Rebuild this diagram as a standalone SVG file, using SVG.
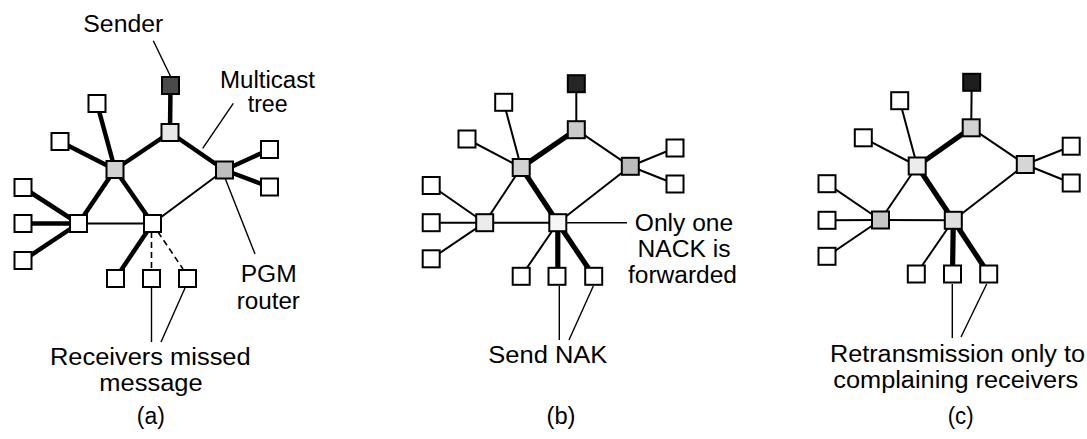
<svg xmlns="http://www.w3.org/2000/svg" width="1087" height="439" viewBox="0 0 1087 439">
<style>
.e{stroke:#000;stroke-linecap:butt;fill:none}
.t1{stroke-width:2}
.t2{stroke-width:4.5}
.t3{stroke-width:5.2}
.d{stroke-width:1.6;stroke-dasharray:6 4}
.ld{stroke:#000;stroke-width:1.4;fill:none}
.n{stroke:#000;stroke-width:2}
.w{fill:#fff}
text{font-family:"Liberation Sans",Arial,Helvetica,sans-serif;font-size:23px;fill:#000;text-anchor:middle}
</style>
<rect width="1087" height="439" fill="#fff"/>

<!-- Connectors -->
<g id="connectors">
  <!-- panel a -->
  <line class="e t2" x1="170.5" y1="85.5" x2="170" y2="132.5"/>
  <line class="e t2" x1="170" y1="132.5" x2="115" y2="169.5"/>
  <line class="e t2" x1="170" y1="132.5" x2="224.5" y2="170"/>
  <line class="e t2" x1="115" y1="169.5" x2="97" y2="103.5"/>
  <line class="e t2" x1="115" y1="169.5" x2="60" y2="141.5"/>
  <line class="e t2" x1="115" y1="169.5" x2="78.5" y2="223.5"/>
  <line class="e t2" x1="115" y1="169.5" x2="152.5" y2="223.5"/>
  <line class="e t2" x1="224.5" y1="170" x2="269.5" y2="149.5"/>
  <line class="e t2" x1="224.5" y1="170" x2="269.5" y2="187"/>
  <line class="e t1" x1="224.5" y1="170" x2="152.5" y2="223.5"/>
  <line class="e t2" x1="78.5" y1="223.5" x2="23" y2="187.5"/>
  <line class="e t2" x1="78.5" y1="223.5" x2="23" y2="223.5"/>
  <line class="e t2" x1="78.5" y1="223.5" x2="23" y2="260.5"/>
  <line class="e t1" x1="78.5" y1="223.5" x2="152.5" y2="223.5"/>
  <line class="e t2" x1="152.5" y1="223.5" x2="115.5" y2="278.5"/>
  <line class="e d" x1="151.5" y1="232" x2="151.5" y2="269"/>
  <line class="e d" x1="158" y1="232" x2="183" y2="269"/>
  <!-- panel a leaders -->
  <line class="ld" x1="153.3" y1="40.7" x2="170.7" y2="76.7"/>
  <line class="ld" x1="233.3" y1="103.3" x2="202.7" y2="148.3"/>
  <line class="ld" x1="225" y1="178" x2="255" y2="254"/>
  <line class="ld" x1="151.5" y1="288" x2="151.5" y2="342"/>
  <line class="ld" x1="185" y1="288" x2="161" y2="342"/>

  <!-- panel b -->
  <line class="e t1" x1="576.3" y1="83.7" x2="576.3" y2="129.7"/>
  <line class="e t3" x1="576.3" y1="129.7" x2="521.2" y2="167.5"/>
  <line class="e t1" x1="576.3" y1="129.7" x2="630.3" y2="166.3"/>
  <line class="e t1" x1="521.2" y1="167.5" x2="503.7" y2="102.3"/>
  <line class="e t1" x1="521.2" y1="167.5" x2="467" y2="139"/>
  <line class="e t1" x1="521.2" y1="167.5" x2="484.7" y2="222.7"/>
  <line class="e t3" x1="521.2" y1="167.5" x2="557.8" y2="222.7"/>
  <line class="e t1" x1="630.3" y1="166.3" x2="675" y2="148"/>
  <line class="e t1" x1="630.3" y1="166.3" x2="675" y2="184"/>
  <line class="e t1" x1="630.3" y1="166.3" x2="557.8" y2="222.7"/>
  <line class="e t1" x1="484.7" y1="222.7" x2="431.2" y2="185.5"/>
  <line class="e t1" x1="484.7" y1="222.7" x2="431.2" y2="222.7"/>
  <line class="e t1" x1="484.7" y1="222.7" x2="431.2" y2="258.8"/>
  <line class="e t1" x1="484.7" y1="222.7" x2="557.8" y2="222.7"/>
  <line class="e t1" x1="557.8" y1="222.7" x2="521.2" y2="276.3"/>
  <line class="e t3" x1="557.8" y1="222.7" x2="557.8" y2="276.3"/>
  <line class="e t3" x1="557.8" y1="222.7" x2="593.7" y2="276.3"/>
  <!-- panel b leaders -->
  <line class="ld" x1="567" y1="222.7" x2="627" y2="222.7"/>
  <line class="ld" x1="559.3" y1="286" x2="559.3" y2="340"/>
  <line class="ld" x1="593.3" y1="286" x2="569" y2="340"/>

  <!-- panel c -->
  <line class="e t1" x1="971.7" y1="82.3" x2="971.2" y2="127.8"/>
  <line class="e t3" x1="971.2" y1="127.8" x2="917.2" y2="166"/>
  <line class="e t1" x1="971.2" y1="127.8" x2="1025.3" y2="164.5"/>
  <line class="e t1" x1="917.2" y1="166" x2="899.7" y2="100.7"/>
  <line class="e t1" x1="917.2" y1="166" x2="863.3" y2="137.8"/>
  <line class="e t1" x1="917.2" y1="166" x2="880.5" y2="220"/>
  <line class="e t3" x1="917.2" y1="166" x2="953.3" y2="220.3"/>
  <line class="e t1" x1="1025.3" y1="164.5" x2="1071.2" y2="146.2"/>
  <line class="e t1" x1="1025.3" y1="164.5" x2="1071.2" y2="183"/>
  <line class="e t1" x1="1025.3" y1="164.5" x2="953.3" y2="220.3"/>
  <line class="e t1" x1="880.5" y1="220" x2="827" y2="183.7"/>
  <line class="e t1" x1="880.5" y1="220" x2="827" y2="220.3"/>
  <line class="e t1" x1="880.5" y1="220" x2="827" y2="256.3"/>
  <line class="e t1" x1="880.5" y1="220" x2="953.3" y2="220.3"/>
  <line class="e t1" x1="953.3" y1="220.3" x2="916.3" y2="274"/>
  <line class="e t3" x1="953.3" y1="220.3" x2="952.5" y2="274"/>
  <line class="e t3" x1="953.3" y1="220.3" x2="988.7" y2="274"/>
  <!-- panel c leaders -->
  <line class="ld" x1="952.3" y1="284" x2="952.3" y2="338"/>
  <line class="ld" x1="986.7" y1="284" x2="961" y2="337"/>
</g>

<!-- Panel a nodes -->
<g id="a-sender"><rect class="n" x="162" y="77" width="17" height="17" fill="#4a4a4a"/></g>
<g id="a-r1"><rect class="n" x="161.5" y="124" width="17" height="17" fill="#e8e8e8"/></g>
<g id="a-r2"><rect class="n" x="106.5" y="161" width="17" height="17" fill="#d2d2d2"/></g>
<g id="a-r3"><rect class="n" x="216" y="161.5" width="17" height="17" fill="#bdbdbd"/></g>
<g id="a-r4"><rect class="n w" x="70" y="215" width="17" height="17"/></g>
<g id="a-r5"><rect class="n w" x="144" y="215" width="17" height="17"/></g>
<g id="a-l1"><rect class="n w" x="88.5" y="95" width="17" height="17"/></g>
<g id="a-l2"><rect class="n w" x="51.5" y="133" width="17" height="17"/></g>
<g id="a-l3"><rect class="n w" x="261" y="141" width="17" height="17"/></g>
<g id="a-l4"><rect class="n w" x="261" y="178.5" width="17" height="17"/></g>
<g id="a-l5"><rect class="n w" x="14.5" y="179" width="17" height="17"/></g>
<g id="a-l6"><rect class="n w" x="14.5" y="215" width="17" height="17"/></g>
<g id="a-l7"><rect class="n w" x="14.5" y="252" width="17" height="17"/></g>
<g id="a-l8"><rect class="n w" x="107" y="270" width="17" height="17"/></g>
<g id="a-l9"><rect class="n w" x="143" y="270" width="17" height="17"/></g>
<g id="a-l10"><rect class="n w" x="179" y="270" width="17" height="17"/></g>

<!-- Panel b nodes -->
<g id="b-sender"><rect class="n" x="567.8" y="75.2" width="17" height="17" fill="#262626"/></g>
<g id="b-r1"><rect class="n" x="567.8" y="121.2" width="17" height="17" fill="#cacaca"/></g>
<g id="b-r2"><rect class="n" x="512.7" y="159" width="17" height="17" fill="#d2d2d2"/></g>
<g id="b-r3"><rect class="n" x="621.8" y="157.8" width="17" height="17" fill="#bcbcbc"/></g>
<g id="b-r4"><rect class="n" x="476.2" y="214.2" width="17" height="17" fill="#ececec"/></g>
<g id="b-r5"><rect class="n" x="549.3" y="214.2" width="17" height="17" fill="#f6f6f6"/></g>
<g id="b-l1"><rect class="n w" x="495.2" y="93.8" width="17" height="17"/></g>
<g id="b-l2"><rect class="n w" x="458.5" y="130.5" width="17" height="17"/></g>
<g id="b-l3"><rect class="n w" x="666.5" y="139.5" width="17" height="17"/></g>
<g id="b-l4"><rect class="n w" x="666.5" y="175.5" width="17" height="17"/></g>
<g id="b-l5"><rect class="n w" x="422.7" y="177" width="17" height="17"/></g>
<g id="b-l6"><rect class="n w" x="422.7" y="214.2" width="17" height="17"/></g>
<g id="b-l7"><rect class="n w" x="422.7" y="250.3" width="17" height="17"/></g>
<g id="b-l8"><rect class="n w" x="512.7" y="267.8" width="17" height="17"/></g>
<g id="b-l9"><rect class="n w" x="548.5" y="267.8" width="17" height="17"/></g>
<g id="b-l10"><rect class="n w" x="585.2" y="267.8" width="17" height="17"/></g>

<!-- Panel c nodes -->
<g id="c-sender"><rect class="n" x="963.2" y="73.8" width="17" height="17" fill="#1e1e1e"/></g>
<g id="c-r1"><rect class="n" x="962.7" y="119.3" width="17" height="17" fill="#d2d2d2"/></g>
<g id="c-r2"><rect class="n" x="908.7" y="157.5" width="17" height="17" fill="#ececec"/></g>
<g id="c-r3"><rect class="n" x="1016.8" y="156" width="17" height="17" fill="#d6d6d6"/></g>
<g id="c-r4"><rect class="n" x="872" y="211.5" width="17" height="17" fill="#c8c8c8"/></g>
<g id="c-r5"><rect class="n" x="944.8" y="211.8" width="17" height="17" fill="#dedede"/></g>
<g id="c-l1"><rect class="n w" x="891.2" y="92.2" width="17" height="17"/></g>
<g id="c-l2"><rect class="n w" x="854.8" y="129.3" width="17" height="17"/></g>
<g id="c-l3"><rect class="n w" x="1062.7" y="137.7" width="17" height="17"/></g>
<g id="c-l4"><rect class="n w" x="1062.7" y="174.5" width="17" height="17"/></g>
<g id="c-l5"><rect class="n w" x="818.5" y="175.2" width="17" height="17"/></g>
<g id="c-l6"><rect class="n w" x="818.5" y="211.8" width="17" height="17"/></g>
<g id="c-l7"><rect class="n w" x="818.5" y="247.8" width="17" height="17"/></g>
<g id="c-l8"><rect class="n w" x="907.8" y="265.5" width="17" height="17"/></g>
<g id="c-l9"><rect class="n w" x="944" y="265.5" width="17" height="17"/></g>
<g id="c-l10"><rect class="n w" x="980.2" y="265.5" width="17" height="17"/></g>

<!-- Labels -->
<g id="labels">
  <text x="123.3" y="31.7" textLength="80" lengthAdjust="spacingAndGlyphs">Sender</text>
  <text x="267.5" y="87.5" textLength="95" lengthAdjust="spacingAndGlyphs">Multicast</text>
  <text x="267.7" y="111.7" textLength="40" lengthAdjust="spacingAndGlyphs">tree</text>
  <text x="268.7" y="281.7" textLength="56" lengthAdjust="spacingAndGlyphs">PGM</text>
  <text x="268.3" y="309" textLength="63.3" lengthAdjust="spacingAndGlyphs">router</text>
  <text x="150.3" y="365" textLength="200.7" lengthAdjust="spacingAndGlyphs">Receivers missed</text>
  <text x="151" y="390.5" textLength="103.3" lengthAdjust="spacingAndGlyphs">message</text>
  <text x="150.8" y="424" textLength="28" lengthAdjust="spacingAndGlyphs">(a)</text>

  <text x="684" y="230.5" textLength="98.3" lengthAdjust="spacingAndGlyphs">Only one</text>
  <text x="684" y="257" textLength="93" lengthAdjust="spacingAndGlyphs">NACK is</text>
  <text x="682.5" y="283" textLength="109" lengthAdjust="spacingAndGlyphs">forwarded</text>
  <text x="547.8" y="363.3" textLength="119" lengthAdjust="spacingAndGlyphs">Send NAK</text>
  <text x="561" y="424" textLength="29" lengthAdjust="spacingAndGlyphs">(b)</text>

  <text x="957.5" y="361.7" textLength="255" lengthAdjust="spacingAndGlyphs">Retransmission only to</text>
  <text x="955.8" y="388.3" textLength="245" lengthAdjust="spacingAndGlyphs">complaining receivers</text>
  <text x="960.7" y="424" textLength="26" lengthAdjust="spacingAndGlyphs">(c)</text>
</g>
</svg>
